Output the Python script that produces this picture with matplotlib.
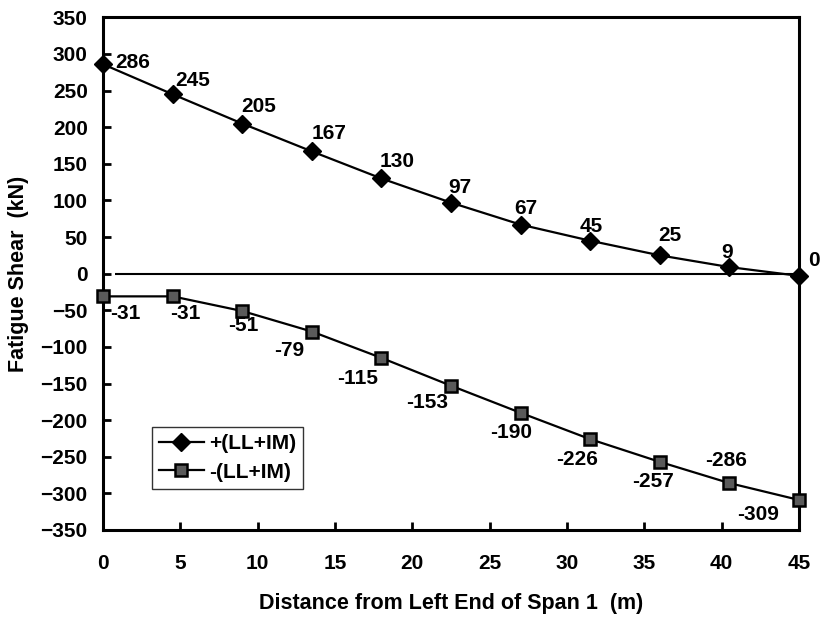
import matplotlib
matplotlib.use('Agg')
import matplotlib.pyplot as plt

plt.rcParams['font.family'] = ['Liberation Sans', 'DejaVu Sans']
plt.rcParams['font.weight'] = 'bold'

# data
distance = [0, 4.5, 9, 13.5, 18, 22.5, 27, 31.5, 36, 40.5, 45]
shear_pos = [286, 245, 205, 167, 130, 97, 67, 45, 25, 9, -3]
shear_neg = [-31, -31, -51, -79, -115, -153, -190, -226, -257, -286, -309]
labels_pos = ['286', '245', '205', '167', '130', '97', '67', '45', '25', '9', '0']
labels_neg = ['-31', '-31', '-51', '-79', '-115', '-153', '-190', '-226', '-257', '-286', '-309']

# label offsets in pixels (dx, dy)
off_pos = [(30, 2), (20, 14), (16, 17), (17, 18), (16, 17), (9, 15),
           (5, 16), (1, 14), (10, 20), (-2, 15), (15, 15)]
off_neg = [(22, -17), (13, -17), (1, -14), (-23, -19), (-24, -21), (-24, -17),
           (-9, -20), (-13, -20), (-7, -20), (-3, 23), (-41, -15)]

fig = plt.figure(figsize=(8.22, 6.2), dpi=100)
ax = fig.add_axes([0.1253, 0.1452, 0.8467, 0.8268])

ax.hlines(0, 0.8, 45, color='black', linewidth=1.5, zorder=1)

ax.plot(distance, shear_pos, color='black', linewidth=1.6, marker='D',
        markersize=9, markerfacecolor='black', markeredgecolor='black',
        label='+(LL+IM)', clip_on=False, zorder=3)
ax.plot(distance, shear_neg, color='black', linewidth=1.6, marker='s',
        markersize=8.5, markerfacecolor='#5a5a5a', markeredgecolor='black',
        markeredgewidth=1.8, label='-(LL+IM)', clip_on=False, zorder=3)

for x, y, t, (dx, dy) in zip(distance, shear_pos, labels_pos, off_pos):
    ax.annotate(t, (x, y), xytext=(dx, dy), textcoords='offset pixels',
                ha='center', va='center', fontsize=15, fontweight='bold',
                annotation_clip=False)
for x, y, t, (dx, dy) in zip(distance, shear_neg, labels_neg, off_neg):
    ax.annotate(t, (x, y), xytext=(dx, dy), textcoords='offset pixels',
                ha='center', va='center', fontsize=15, fontweight='bold',
                annotation_clip=False)

ax.set_xlim(0, 45)
ax.set_ylim(-350, 350)
ax.set_xticks(range(0, 46, 5))
ax.set_yticks(range(-350, 351, 50))

for s in ax.spines.values():
    s.set_linewidth(2.2)

ax.tick_params(axis='both', direction='in', length=6, width=2, labelsize=15)
ax.tick_params(axis='x', pad=17)
ax.tick_params(axis='y', pad=11)
for lab in ax.get_xticklabels() + ax.get_yticklabels():
    lab.set_fontweight('bold')

ax.set_xlabel('Distance from Left End of Span 1  (m)', fontsize=15.5,
              fontweight='bold', labelpad=15)
ax.set_ylabel('Fatigue Shear  (kN)', fontsize=15.5, fontweight='bold',
              labelpad=8)

leg = ax.legend(loc='lower left', bbox_to_anchor=(0.07, 0.08), fontsize=15,
                frameon=True, fancybox=False, edgecolor='black',
                handlelength=2.15, borderpad=0.35, labelspacing=0.45,
                handletextpad=0.25, borderaxespad=0)
leg.get_frame().set_linewidth(1.0)
for t in leg.get_texts():
    t.set_fontweight('bold')

plt.savefig('out.png', dpi=100)
